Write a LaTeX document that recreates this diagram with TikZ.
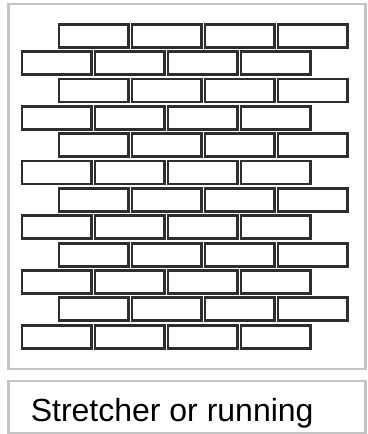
\documentclass[tikz,border=0pt]{standalone}
\usepackage{fontspec}
\setmainfont{Liberation Sans}
\definecolor{framegray}{HTML}{C4C4C4}
\definecolor{brickline}{HTML}{2E2E2E}
\tikzset{
  frame/.style={draw=framegray,line width=1.6},
  brick/.style={draw=brickline,line width=2.1},
}
\begin{document}
\begin{tikzpicture}[x=0.75pt,y=-0.75pt]
\useasboundingbox (0,0) rectangle (367,434);
\clip (0,0) rectangle (367,434);
% outer frames
\draw[frame] (8.5,4) rectangle (365.5,369);
\draw[frame] (8.5,381) rectangle (365.5,433);
% stretcher courses
\foreach \r in {0,...,11}{
  \pgfmathsetmacro{\top}{24.3+27.35*\r}
  \pgfmathsetmacro{\xo}{mod(\r,2)==0 ? 59 : 22}
  \foreach \k in {0,...,3}
    \draw[brick] ({\xo+73*\k},\top) rectangle ({\xo+73*\k+69.5},{\top+23});
}
\node[anchor=base west,inner sep=0pt,font=\fontsize{24pt}{28pt}\selectfont] (caption) at (30.5,421.5) {Stretcher or running};
\end{tikzpicture}
\end{document}
